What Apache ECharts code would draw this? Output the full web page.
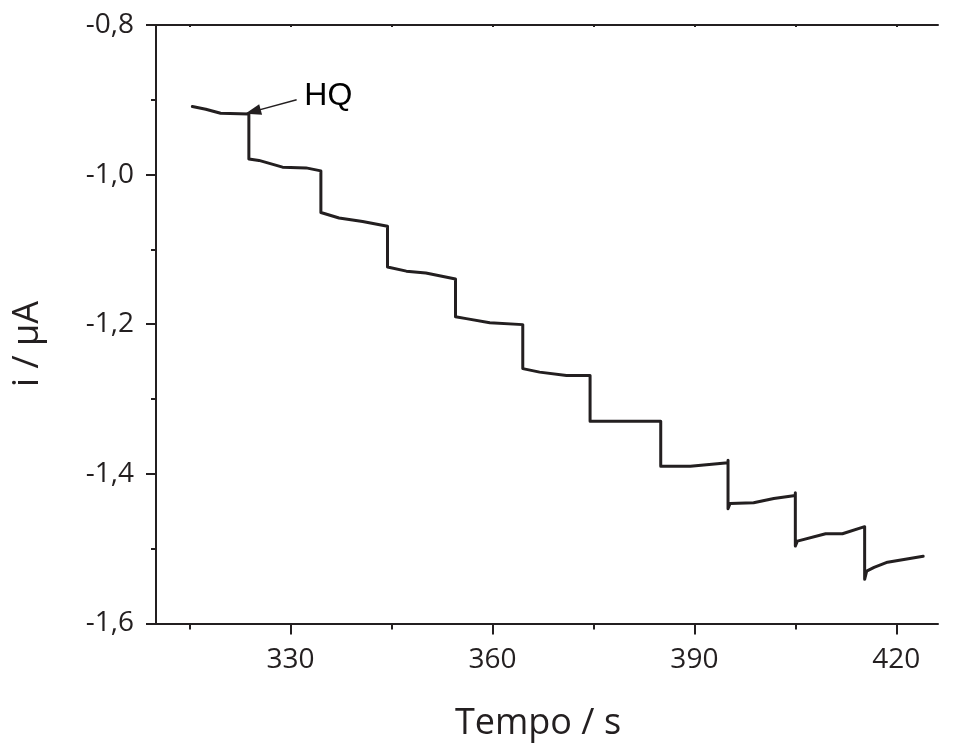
<!DOCTYPE html>
<html><head><meta charset="utf-8">
<script src="https://cdn.jsdelivr.net/npm/echarts@6/dist/echarts.min.js"></script>
<style>html,body{margin:0;padding:0;background:#fff}#c{width:953px;height:746px}</style>
</head><body><div id="c"></div>
<script>
// Time (s) and current (µA)
const timeS = [315.4,317.4,319.6,323.8,323.8,325.3,328.8,332.3,334.5,334.5,337.2,340.7,344.4,344.4,347.2,350.1,354.5,354.5,356.1,359.6,364.5,364.5,367.0,371.0,374.5,374.5,385.0,385.0,389.4,395.0,395.0,395.0,395.3,398.8,401.8,405.0,405.0,405.0,405.3,409.5,412.0,415.3,415.3,415.3,415.6,416.7,418.7,424.0];
const currentUA = [-0.909,-0.9126,-0.918,-0.919,-0.979,-0.981,-0.990,-0.991,-0.995,-1.0506,-1.058,-1.0626,-1.069,-1.1235,-1.129,-1.1316,-1.1396,-1.190,-1.1925,-1.198,-1.2005,-1.2593,-1.264,-1.2686,-1.2686,-1.3296,-1.3296,-1.3897,-1.3897,-1.385,-1.3817,-1.4466,-1.4395,-1.4386,-1.4328,-1.4288,-1.4253,-1.4965,-1.4899,-1.480,-1.480,-1.4706,-1.4689,-1.541,-1.530,-1.525,-1.518,-1.510];
const xMajorTicks = [330,360,390,420];
const xMinorTicks = [315,345,375,405];
const xRange = [310,426.2];
const yRange = [-1.6,-0.8];
const arrowFrom = [330.9,-0.900];
const arrowTo = [324.4,-0.9158];
const hqLabelAt = [335.6,-0.8955];
const hqText = 'HQ';
const xTitle = 'Tempo / s';
const yTitle = 'i / μA';

const data = timeS.map((t,i)=>[t,currentUA[i]]);
const ink = '#231f20';
const chart = echarts.init(document.getElementById('c'));
chart.setOption({
  animation:false,
  backgroundColor:'#fff',
  grid:{left:156,right:15,top:25,bottom:122.5,containLabel:false},
  xAxis:[
    {type:'value',min:xRange[0],max:xRange[1],position:'bottom',
     axisLine:{show:true,onZero:false,lineStyle:{color:ink,width:2}},
     axisTick:{show:true,customValues:xMajorTicks,length:11,lineStyle:{color:ink,width:2}},
     axisLabel:{show:true,customValues:xMajorTicks,margin:23,color:ink,fontFamily:'Open Sans',fontSize:28},
     splitLine:{show:false}},
    {type:'value',min:xRange[0],max:xRange[1],position:'bottom',
     axisLine:{show:false},
     axisTick:{show:true,customValues:xMinorTicks,length:6,lineStyle:{color:ink,width:2}},
     axisLabel:{show:false},splitLine:{show:false}},
    {type:'value',min:xRange[0],max:xRange[1],position:'top',
     axisLine:{show:true,onZero:false,lineStyle:{color:ink,width:2}},
     axisTick:{show:true,inside:true,customValues:xMajorTicks.concat(xMinorTicks),length:2,lineStyle:{color:ink,width:2}},
     axisLabel:{show:false},splitLine:{show:false}}
  ],
  yAxis:{type:'value',min:yRange[0],max:yRange[1],interval:0.2,
    axisLine:{show:true,onZero:false,lineStyle:{color:ink,width:2}},
    axisTick:{show:true,length:10,lineStyle:{color:ink,width:2}},
    minorTick:{show:true,splitNumber:2,length:5,lineStyle:{color:ink,width:2}},
    axisLabel:{margin:22,color:ink,fontFamily:'Open Sans',fontSize:28,
      formatter:v=>v.toFixed(1).replace('.',',')},
    splitLine:{show:false}},
  graphic:[
    {type:'text',position:[538,724],style:{text:xTitle,fontFamily:'Open Sans',fontSize:36,fill:ink,textAlign:'center',textVerticalAlign:'middle'}},
    {type:'text',rotation:Math.PI/2,position:[28,344],style:{text:yTitle,fontFamily:'Open Sans',fontSize:36,fill:ink,textAlign:'center',textVerticalAlign:'middle'}}
  ],
  series:[{
    type:'line',data:data,xAxisIndex:0,showSymbol:false,symbol:'none',
    lineStyle:{color:ink,width:3,cap:'round',join:'round'},
    markLine:{silent:true,animation:false,symbol:['none','triangle'],symbolSize:[11,16],
      lineStyle:{color:ink,width:1.5,type:'solid'},label:{show:false},
      data:[[{coord:arrowFrom},{coord:arrowTo}]]},
    markPoint:{silent:true,symbol:'circle',symbolSize:1,itemStyle:{color:'rgba(0,0,0,0)'},
      label:{show:true,position:'inside',formatter:hqText,color:'#000',fontFamily:'Liberation Sans',fontSize:32},
      data:[{coord:hqLabelAt}]}
  }]
});
</script></body></html>
